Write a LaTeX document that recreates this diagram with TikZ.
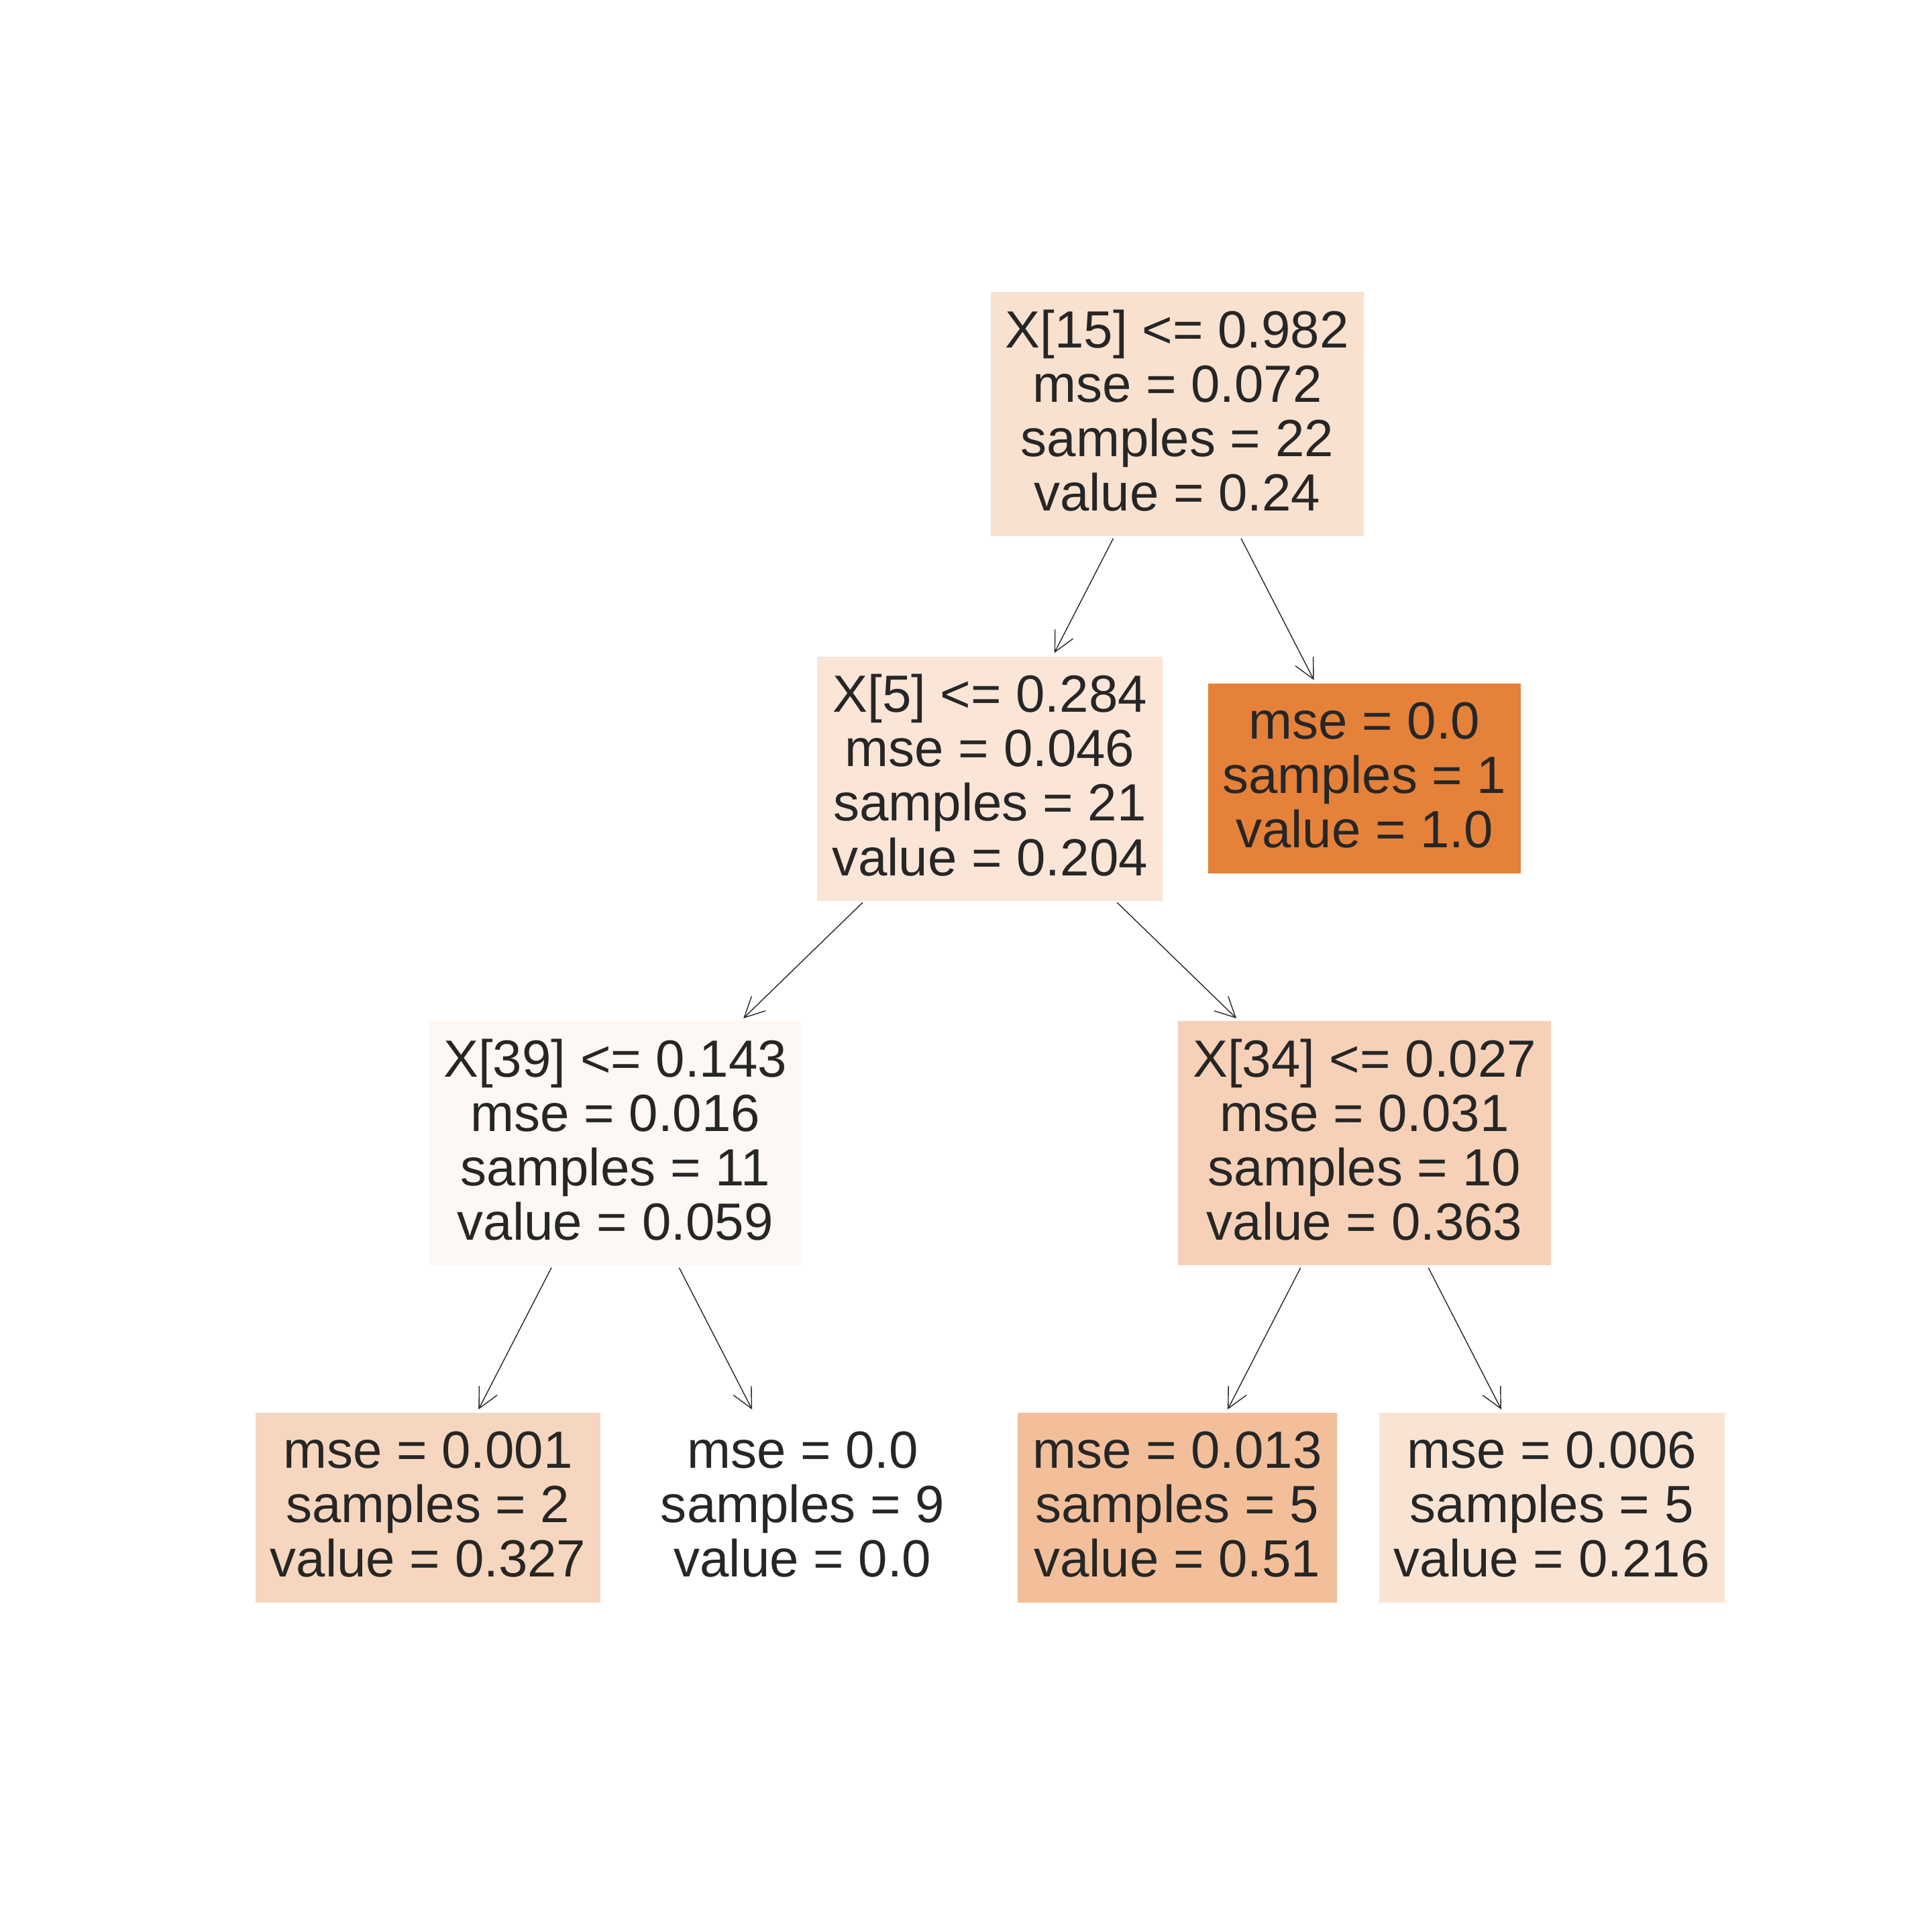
\documentclass[tikz,border=0pt]{standalone}
\usepackage{fontspec}
\setmainfont{Liberation Sans}
\usetikzlibrary{arrows.meta}
\definecolor{treeorange}{RGB}{229,129,57}
\definecolor{treetext}{RGB}{38,38,38}

\begin{document}
\begin{tikzpicture}[
	splitbox/.style={fill=treeorange!#1,text=treetext,align=center,inner xsep=0.22cm,inner ysep=0cm,outer sep=0pt,minimum height=3.64cm,font=\fontsize{22.2}{23.1}\selectfont,execute at end node={\rule[-0.11cm]{0pt}{0pt}}},
	leafbox/.style={splitbox=#1,minimum height=2.83cm},
	treearrow/.style={-{Straight Barb[length=0.3cm,width=0.3cm]},line width=0.4pt,treetext,shorten <=0.04cm,shorten >=0.06cm}
	]
		\useasboundingbox (0,0) rectangle (28.8,-28.8);
		
		\path (17.548,-6.17) node[splitbox=24] (root) {X[15] <= 0.982\\mse = 0.072\\samples = 22\\value = 0.24};
		\path (14.756,-11.606) node[splitbox=20.4] (x5) {X[5] <= 0.284\\mse = 0.046\\samples = 21\\value = 0.204};
		\path (20.34,-11.606) node[leafbox=100] (leafa) {mse = 0.0\\samples = 1\\value = 1.0};
		\draw[treearrow] (root) -- (x5);
		\draw[treearrow] (root) -- (leafa);
		
		\path (9.172,-17.042) node[splitbox=5.9] (x39) {X[39] <= 0.143\\mse = 0.016\\samples = 11\\value = 0.059};
		\path (20.34,-17.042) node[splitbox=36.3] (x34) {X[34] <= 0.027\\mse = 0.031\\samples = 10\\value = 0.363};
		\draw[treearrow] (x5) -- (x39);
		\draw[treearrow] (x5) -- (x34);
		
		\path (6.38,-22.478) node[leafbox=32.7] (leafb) {mse = 0.001\\samples = 2\\value = 0.327};
		\path (11.964,-22.478) node[leafbox=0] (leafc) {mse = 0.0\\samples = 9\\value = 0.0};
		\path (17.548,-22.478) node[leafbox=51] (leafd) {mse = 0.013\\samples = 5\\value = 0.51};
		\path (23.132,-22.478) node[leafbox=21.6] (leafe) {mse = 0.006\\samples = 5\\value = 0.216};
		\draw[treearrow] (x39) -- (leafb);
		\draw[treearrow] (x39) -- (leafc);
		\draw[treearrow] (x34) -- (leafd);
		\draw[treearrow] (x34) -- (leafe);
		
	\end{tikzpicture}
\end{document}
